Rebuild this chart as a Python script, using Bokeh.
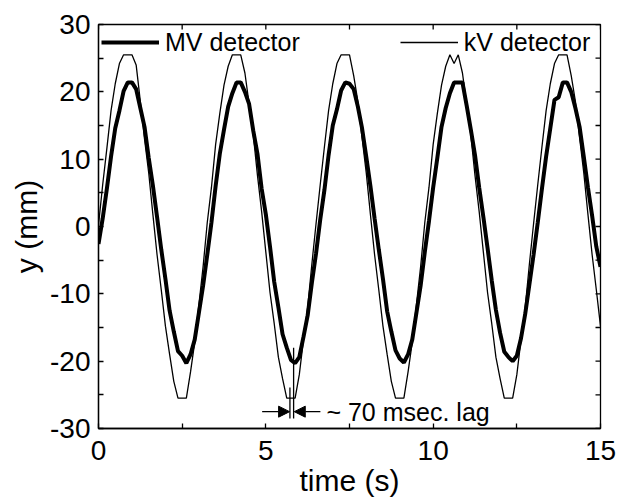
import math
from bokeh.plotting import figure
from bokeh.models import (Range1d, FixedTicker, Legend, LegendItem,
                          Label, Arrow, NormalHead, ColumnDataSource)
from bokeh.embed import file_html
from bokeh.resources import INLINE

# ---- data ----
time_s = [round(0.125 * i, 3) for i in range(121)]

mv_detector = [
    -2.6, 1.2, 5.6, 10.4, 14.6, 17.2, 20.1, 21.4, 21.4, 20.4, 17.6, 14.8, 10.2, 6.1, 1.4, -3.4, -7.8, -12.5, -15.6, -18.5, -19.2, -20.3, -19.0, -16.8, -12.8, -8.8,
    -4.2, 0.6, 6.0, 10.8, 14.4, 17.8, 19.8, 21.4, 21.4, 20.0, 18.2, 14.2, 10.8, 5.6, 1.8, -3.0, -8.2, -12.0, -16.0, -18.0, -19.8, -20.3, -19.4, -16.4, -13.2, -8.4,
    -4.0, 1.0, 5.4, 10.6, 15.0, 17.4, 20.2, 21.4, 21.2, 20.4, 17.8, 14.6, 10.4, 6.0, 1.2, -3.4, -7.8, -12.6, -15.6, -18.4, -19.6, -20.2, -19.0, -16.8, -12.8, -8.8,
    -3.8, 0.8, 5.8, 10.2, 14.8, 17.6, 19.8, 21.4, 21.4, 21.4, 18.0, 14.4, 10.6, 5.8, 1.4, -3.2, -8.0, -12.4, -15.8, -18.6, -19.4, -20.0, -19.2, -16.6, -13.0, -8.6,
    -4.2, 0.6, 5.6, 10.4, 14.6, 18.8, 19.2, 21.4, 21.4, 20.0, 17.6, 14.8, 10.4, 5.8, 1.6, -3.0, -6.0,
]

kv_detector = [
    0.2, 6.2, 11.6, 17.2, 21.2, 24.2, 25.5, 25.5, 25.5, 24.0, 18.6, 13.0, 8.0, 1.8, -4.2, -9.4, -14.8, -19.0, -23.0, -25.5, -25.5, -25.5, -21.6, -17.2, -11.6, -6.0,
    0.6, 5.8, 12.2, 16.8, 21.0, 23.8, 25.5, 25.5, 25.5, 22.8, 18.2, 13.6, 7.6, 2.2, -3.8, -9.8, -14.4, -19.4, -22.6, -25.5, -25.5, -25.5, -22.0, -16.8, -12.0, -5.6,
    0.4, 6.2, 11.8, 17.2, 21.2, 24.2, 25.5, 25.5, 25.5, 22.4, 18.6, 13.2, 8.0, 1.8, -4.2, -9.4, -14.8, -19.0, -23.0, -25.5, -25.5, -25.5, -21.6, -17.2, -11.6, -6.0,
    0.6, 5.8, 12.2, 16.8, 21.0, 23.8, 25.5, 24.2, 25.5, 22.8, 18.2, 13.6, 7.6, 2.2, -3.8, -9.8, -14.4, -19.4, -22.6, -25.5, -25.5, -25.5, -22.0, -16.8, -12.0, -5.6,
    0.4, 6.2, 11.8, 17.2, 21.2, 24.2, 25.5, 25.5, 25.5, 22.4, 18.6, 13.2, 8.0, 1.8, -4.2, -9.4, -14.8,
]

x_ticks = [0, 5, 10, 15]
x_minor = [2.5, 7.5, 12.5]
y_ticks = [-30, -20, -10, 0, 10, 20, 30]
y_minor = [-25, -15, -5, 5, 15, 25]
x_min, x_max = 0, 15
y_min, y_max = -30, 30

# annotation: lag markers
lag_x = [5.72, 5.83]
lag_y_bottom = [-28.5, -28.5]
lag_y_top = [-23.9, -18.0]
arrow_y = -27.5
arrow_left = (4.89, 5.71)
arrow_right = (6.63, 5.85)
lag_text = "~ 70 msec. lag"
lag_text_pos = (6.81, -27.6)

FONT = "Liberation Sans"
TICK_LEN = 5

p = figure(width=618, height=500, output_backend="svg", toolbar_location=None,
           x_range=Range1d(x_min, x_max), y_range=Range1d(y_min, y_max),
           min_border_left=98, min_border_right=18, min_border_top=24,
           min_border_bottom=72)
p.background_fill_color = "white"
p.border_fill_color = "white"
p.xgrid.visible = False
p.ygrid.visible = False
p.outline_line_color = "black"
p.outline_line_width = 1.3

src = ColumnDataSource(dict(t=time_s, mv=mv_detector, kv=kv_detector))
r_kv = p.line("t", "kv", source=src, line_color="black", line_width=1.3)
r_mv = p.line("t", "mv", source=src, line_color="black", line_width=4)

for ax in (p.xaxis[0], p.yaxis[0]):
    ax.axis_line_color = "black"
    ax.axis_line_width = 1.3
    ax.major_tick_line_color = "black"
    ax.minor_tick_line_color = "black"
    ax.major_tick_line_width = 1.3
    ax.minor_tick_line_width = 1.3
    ax.major_tick_in = TICK_LEN
    ax.major_tick_out = 0
    ax.minor_tick_in = TICK_LEN
    ax.minor_tick_out = 0
    ax.major_label_text_font = FONT
    ax.major_label_text_color = "black"
    ax.major_label_text_font_size = "28px"
    ax.axis_label_text_font = FONT
    ax.axis_label_text_font_style = "normal"
    ax.axis_label_text_color = "black"
    ax.axis_label_text_font_size = "30px"

p.xaxis.ticker = FixedTicker(ticks=x_ticks, minor_ticks=x_minor)
p.yaxis.ticker = FixedTicker(ticks=y_ticks, minor_ticks=y_minor)
p.yaxis.major_label_overrides = {v: str(v) for v in y_ticks}
p.xaxis.axis_label = "time (s)"
p.yaxis.axis_label = "y (mm)"
p.xaxis.major_label_standoff = 12
p.xaxis.axis_label_standoff = 1
p.yaxis.major_label_standoff = 8
p.yaxis.axis_label_standoff = 4

# mirrored inward ticks on top and right edges
top_x = sorted(x_ticks + x_minor)
p.ray(x=top_x, y=[y_max] * len(top_x), length=TICK_LEN, length_units="screen",
      angle=-math.pi / 2, line_color="black", line_width=1.3)
right_y = sorted(y_ticks + y_minor)
p.ray(x=[x_max] * len(right_y), y=right_y, length=TICK_LEN, length_units="screen",
      angle=math.pi, line_color="black", line_width=1.3)

legend = Legend(items=[LegendItem(label="MV detector", renderers=[r_mv]),
                       LegendItem(label="kV detector", renderers=[r_kv])],
                location="top_left", orientation="horizontal",
                margin=3, padding=2, spacing=100, glyph_width=58,
                label_standoff=6, label_height=30,
                border_line_color=None, background_fill_alpha=0,
                label_text_font=FONT, label_text_font_size="25px",
                label_text_color="black")
p.add_layout(legend)

p.segment(x0=lag_x, y0=lag_y_bottom, x1=lag_x, y1=lag_y_top,
          line_color="black", line_width=1.3)
p.add_layout(Arrow(end=NormalHead(size=11, fill_color="black", line_color="black"),
                   x_start=arrow_left[0], y_start=arrow_y, x_end=arrow_left[1], y_end=arrow_y,
                   line_width=1.3, line_color="black"))
p.add_layout(Arrow(end=NormalHead(size=11, fill_color="black", line_color="black"),
                   x_start=arrow_right[0], y_start=arrow_y, x_end=arrow_right[1], y_end=arrow_y,
                   line_width=1.3, line_color="black"))
p.add_layout(Label(x=lag_text_pos[0], y=lag_text_pos[1], text=lag_text,
                   text_font=FONT, text_font_size="25px", text_color="black",
                   text_baseline="middle"))

open("out.html", "w").write(file_html(p, INLINE))
